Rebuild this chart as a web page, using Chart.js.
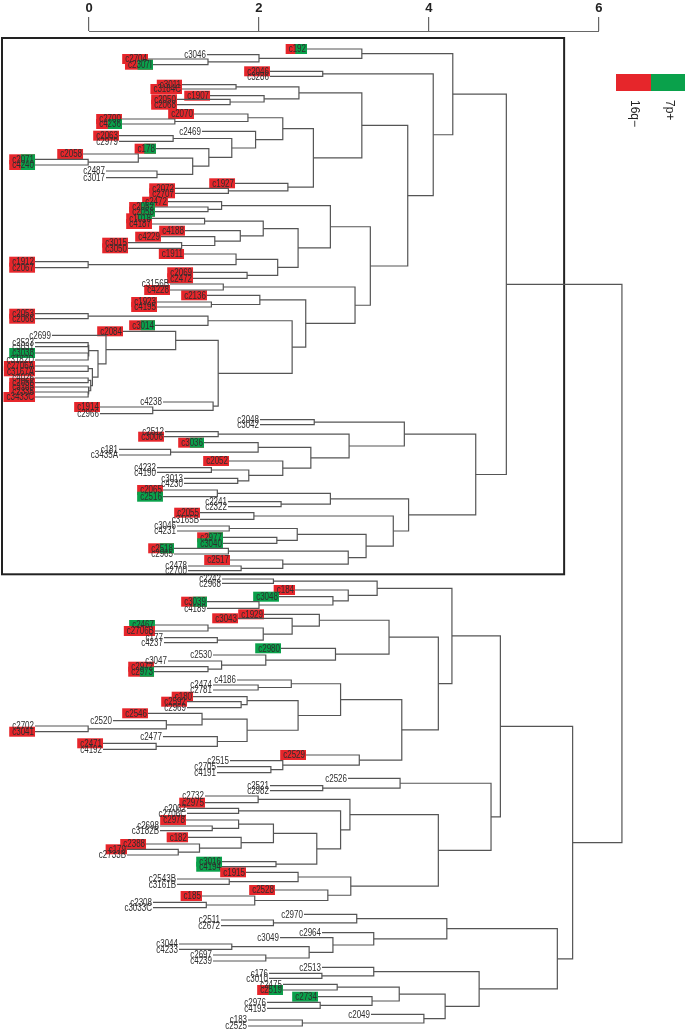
<!DOCTYPE html>
<html>
<head>
<meta charset="utf-8">
<script src="https://cdn.jsdelivr.net/npm/chart.js@4.4.1/dist/chart.umd.min.js"></script>
<style>
html,body{margin:0;padding:0;background:#fff;}
canvas{display:block;}
</style>
</head>
<body>
<canvas id="c" width="685" height="1031"></canvas>
<script>
// ---------- DATA ----------
const tickValues = [0, 2, 4, 6];
const legendLabels = ['16q\u2212', '7p+'];

// leaves, top to bottom ("#n" suffix only makes repeated labels unique)
const leafNames = [
 "c192","c3046","c2704","c2307I","c2046","c3286","c3011","c3184C","c1907","c2050","c2068","c2070","c2700","c4236","c2469","c2063","c2979","c178","c2058","c2071","c4240","c2487","c3017","c1927","c2072","c2707","c2472","c2052","c2058#2","c1018","c4187","c4188","c4229","c3015","c3050","c1911","c1912","c2067","c2069","c2472#2","c3156B","c4228","c2136","c1923","c4195","c2053","c2066","c3014","c2084","c2699",
 "c2523","c3031","c3038","c3182D","c2706A","c3167A","c4026","c2056","c3185","c2335","c3433C",
 "c4238","c1914","c2966","c2048","c3042","c2512","c3006","c3036","c181","c3435A","c2052#2","c4232","c4190","c3013","c4230","c2065","c2516","c2241","c2322","c2055","c3165B","c3046#2","c4231","c2977","c3040","c2518","c2965","c2517","c2478","c2700#2",
 "c2242","c2968","c184","c3048","c3039","c4189","c1929","c3043","c2467","c2706B","c177","c4237","c2980","c2530","c3047","c2972","c2973","c4186","c2474","c2781","c180","c2592","c2969","c2546","c2520","c2702","c3041","c2477","c2471","c4192","c2529","c2515","c2705","c4191","c2526","c2521","c2982","c2732","c2975","c2062","c2706C","c2978","c2698","c3182B","c182","c2388","c179","c2733B","c3016","c4194","c1915","c2543B","c3161B","c2528","c185","c2308","c3033C","c2970","c2511","c2672","c2964","c3049","c3044","c4233","c2697","c4239","c2513","c176","c3010","c2475","c2519","c2734","c2976","c4193","c2049","c183","c2525"
];
// vertical row position of each leaf
const leafRow = [
 49,54.7,59,64.7,71.3,76.3,84.7,89,95.7,99.3,104.7,114,119,124,131.3,135.7,141.3,148.7,154,159.3,165,171,177.7,183.3,188.3,193.3,201.7,207,211.7,218.3,224,230.7,236.7,242.7,248.3,254,261.7,267.7,272.3,278.3,284,290,295.3,302,307,313.7,318.7,325.3,331.3,335.3,
 342.7,346.7,353,360,366,371.3,378,382.7,387,392,397,
 402,407,413.7,419.7,424.7,431.7,436.7,442.7,449.3,455,461,467.7,472.3,478.3,483.3,490,496.7,501.7,506.7,512.7,519.3,526,531,537.3,543.3,548.3,554,560,566,570.7,
 579,583.3,590,596.7,601.7,608.3,614.3,618.3,625,631,637.7,642.7,648.3,655,661,666.7,671.7,680,685,690,696.7,701.7,707.7,713.3,720.7,726,731.7,736.7,743.3,749.3,755,760.7,766.7,772.7,778.3,785.7,790.7,796,802.7,808.3,813.3,820,826,830.7,837.3,844,849.3,855,861.7,866.7,872.3,879,884.3,890,896,902.3,907.7,914.3,920,925.7,932.7,937.7,944,949.3,955,961,967.3,973.3,978.3,984.3,990,996.7,1002.3,1008.3,1014.3,1020,1026
];
// distance at which each leaf branch starts
const leafStart = [
 2.565,1.388,0.694,0.753,2.129,2.129,1.094,1.094,1.424,1.035,1.035,1.235,0.388,0.388,1.329,0.353,0.353,0.788,-0.07,-0.635,-0.635,0.2,0.2,1.718,1.012,1.012,0.929,0.776,0.776,0.741,0.741,1.129,0.847,0.459,0.459,1.118,-0.635,-0.635,1.224,1.224,0.953,0.953,1.388,0.8,0.8,-0.635,-0.635,0.776,0.4,-0.435,
 -0.635,-0.635,-0.635,-0.635,-0.635,-0.635,-0.635,-0.635,-0.635,-0.635,-0.635,
 0.87,0.129,0.129,2.012,2.012,0.894,0.882,1.353,0.353,0.353,1.647,0.8,0.8,1.118,1.118,0.87,0.87,1.635,1.635,1.306,1.306,1.035,1.035,1.576,1.576,1.0,1.0,1.659,1.165,1.165,
 1.565,1.565,2.424,2.235,1.388,1.388,2.059,1.753,0.776,0.776,0.882,0.882,2.259,1.459,0.929,0.765,0.765,1.741,1.459,1.459,1.224,1.153,1.153,0.694,0.282,-0.635,-0.635,0.87,0.165,0.165,2.553,1.659,1.506,1.506,3.047,2.129,2.129,1.365,1.365,1.153,1.153,1.141,0.835,0.835,1.165,0.671,0.447,0.447,1.565,1.565,1.847,1.035,1.035,2.188,1.329,0.753,0.753,2.529,1.553,1.553,2.741,2.247,1.059,1.059,1.459,1.459,2.741,2.118,2.118,2.282,2.282,2.694,2.094,2.094,3.318,1.871,1.871
];
// 0 none, 1 16q- , 2 7p+ , 3 both
const leafMark = [
 3,0,1,3,1,0,1,1,1,1,1,1,1,3,0,1,0,3,1,3,3,0,0,1,1,1,1,3,3,3,1,1,1,1,1,1,1,1,1,1,0,1,1,1,1,1,1,3,1,0,
 0,0,2,0,1,1,0,1,1,1,1,
 0,1,0,0,0,0,1,3,0,0,1,0,0,0,0,1,2,0,0,1,0,0,0,3,2,3,0,1,0,0,
 0,0,1,2,3,0,1,1,2,1,0,0,2,0,0,1,3,0,0,0,1,1,0,1,0,0,1,0,1,0,1,0,0,0,0,0,0,0,1,0,0,1,0,0,1,1,1,0,2,2,1,0,0,1,1,0,0,0,0,0,0,0,0,0,0,0,0,0,0,0,3,2,0,0,0,0,0
];

// merges: node name, left child, right child, merge distance
const nodeNames = ["a1","a2","a3","a4","a5","a6","a7","a8","a9","a10","a11","a12","a13","a14","a15","a16","a17","a18","a19","a20","a21","a22","a23","a24","a25","a26","a27","a28","a29","a30","a31","a32","a33","a34","a35","a36","a37","a38","a39","a40","a41",
 "m1","m2","m3","m4","m5","m6","m7","m8","m9","m10",
 "a42","a43","a44","a45","a46","a47","a48","a49","a50","a51","a52","a53",
 "b1","b2","b3","b4","b5","b6","b7","b8","b9","b10","b11","b12","b13","b14","b15","b16","b17","b18","b19","b20","b21","b22","b23","b24","b25","b26","A",
 "c1","c2","c3","c4","c5","c6","c7","c8","c9","c10","c11","c12","c13","c14","c15","c16","c17","c18","c19","c20","c21","c22","c23","c24","c25","c26","c27","c28","c29","c30","c31","c32","c33","c34","c35","c36","c37","c38","c39","c40","c41","c42","c43","c44","c45","c46","c47","c48","c49","c50","c51","c52","c53","c54","c55","c56",
 "d1","d2","d3","d4","d5","d6","d7","d8","d9","d10","d11","d12","d13","d14","d15","d16","d17","d18","d19","B","root"];
const nodeLeft = ["c2704","c3046","c192","c2046","c3011","c2050","c1907","a5","c2700","c2070","c2063","c2071","c2058","c2487","a13","c178","a11","c2469","a10","c2072","c1927","a19","a8","c2052","c2472","c1018","c3015","c4229","c4188","a26","c1912","c1911","c2069","a32","a30","a25","c3156B","c1923","c2136","c2053","a40",
 "c2523","c3038","m1","c2706A","c4026","c2335","c3185","m5","m4","m3",
 "c2699","c2084","c1914","c4238","a43","a41","a39","a37","a36","a23","a4","a3",
 "c2048","c2512","c181","c3036","c4232","c3013","b5","c2052#2","b4","b2","b1","c2065","c2241","b12","c2055","c3046#2","c2977","b16","c2518","c2478","c2517","b19","b18","b15","b14","b11","a53",
 "c2242","c3039","c3048","c184","c1","c2467","c177","c6","c3043","c1929","c2972","c3047","c2530","c2980","c10","c2474","c4186","c2592","c180","c2702","c2520","c2546","c2471","c2477","c22","c19","c17","c2705","c2515","c2529","c27","c15","c5","c2521","c2526","c2732","c2062","c2698","c2978","c179","c2388","c182","c39","c3016","c43","c37","c36","c2543B","c1915","c2308","c185","c2528","c49","c47","c35","c33",
 "c2511","c2970","c3044","c2697","d3","c3049","c2964","d2","c176","c2513","c2475","c2976","c2734","d11","c183","c2049","d14","d10","d8","c56","A"];
const nodeRight = ["c2307I","a1","a2","c3286","c3184C","c2068","a6","a7","c4236","a9","c2979","c4240","a12","c3017","a14","a15","a16","a17","a18","c2707","a20","a21","a22","c2058#2","a24","c4187","c3050","a27","a28","a29","c2067","a31","c2472#2","a33","a34","a35","c4228","c4195","a38","c2066","c3014",
 "c3031","c3182D","m2","c3167A","c2056","c3433C","m6","m7","m8","m9",
 "m10","a42","c2966","a44","a45","a46","a47","a48","a49","a50","a51","a52",
 "c3042","c3006","c3435A","b3","c4190","c4230","b6","b7","b8","b9","b10","c2516","c2322","b13","c3165B","c4231","c3040","b17","c2965","c2700#2","b20","b21","b22","b23","b24","b25","b26",
 "c2968","c4189","c2","c3","c4","c2706B","c4237","c7","c8","c9","c2973","c11","c12","c13","c14","c2781","c16","c2969","c18","c3041","c20","c21","c4192","c23","c24","c25","c26","c4191","c28","c29","c30","c31","c32","c2982","c34","c2975","c2706C","c3182B","c38","c2733B","c40","c41","c42","c4194","c44","c45","c46","c3161B","c48","c3033C","c50","c51","c52","c53","c54","c55",
 "c2672","d1","c4233","c4239","d4","d5","d6","d7","c3010","d9","c2519","c4193","d12","d13","c2525","d15","d16","d17","d18","d19","B"];
const nodeHeight = [1.40,2.00,3.21,2.75,1.73,1.66,2.06,2.47,1.01,1.87,0.99,-0.01,0.58,0.80,1.22,1.41,1.68,1.96,2.28,1.64,2.34,2.64,3.21,1.40,1.56,1.36,1.09,1.48,1.78,2.05,-0.01,1.73,1.86,2.22,2.46,2.84,1.58,1.44,2.01,-0.01,1.40,
 -0.01,-0.01,0.0,-0.01,-0.01,-0.01,0.0,0.02,0.04,0.106,
 0.20,1.02,0.75,1.46,1.52,2.39,2.55,3.13,3.31,3.75,4.05,4.28,
 2.65,1.52,0.96,1.99,1.44,1.75,1.88,2.28,2.61,3.06,3.71,1.51,2.26,2.84,1.94,1.65,2.21,2.45,1.64,1.79,2.28,3.05,3.26,3.58,3.76,4.55,4.91,
 2.17,2.00,2.87,3.05,3.39,1.40,1.51,2.05,2.39,2.71,1.40,1.56,2.08,2.90,3.53,1.99,2.38,1.79,1.86,-0.01,0.91,1.33,0.79,1.51,1.86,2.46,2.96,2.14,2.28,3.18,3.68,4.11,4.27,2.75,3.66,1.99,1.76,1.45,1.76,1.05,1.30,1.79,2.17,2.20,2.68,2.96,3.07,1.65,2.46,1.38,1.95,2.81,3.08,4.11,4.73,4.84,
 2.17,3.15,1.68,2.08,2.59,2.87,3.35,4.21,2.74,3.35,2.92,2.72,3.33,3.65,2.51,3.94,4.19,4.59,5.51,5.69,6.27];

// ---------- STYLE ----------
const LINE_COLOR = '#555555';
const RED = '#e6262b';
const GREEN = '#0aa14b';
const LABEL_FONT = '10px "Liberation Sans", Arial, sans-serif';
const LABEL_SQUEEZE = 0.8;   // labels are set in a condensed face
const FRAME_RIGHT = 5.59;   // right edge of boxed upper cluster, in distance units
const FRAME_NODE = 'A';

// ---------- GEOMETRY FROM TREE ----------
const leafIdx = new Map(leafNames.map((n, i) => [n, i]));
const nodeIdx = new Map(nodeNames.map((n, i) => [n, i]));
const cache = {};
function pos(id) {
  if (leafIdx.has(id)) { const i = leafIdx.get(id); return { x: leafStart[i], y: leafRow[i] }; }
  if (cache[id]) return cache[id];
  const k = nodeIdx.get(id);
  const a = pos(nodeLeft[k]), b = pos(nodeRight[k]);
  return (cache[id] = { x: nodeHeight[k], y: (a.y + b.y) / 2 });
}
function leavesOf(id, out) {
  if (leafIdx.has(id)) { out.push(leafIdx.get(id)); return out; }
  const k = nodeIdx.get(id);
  leavesOf(nodeLeft[k], out); leavesOf(nodeRight[k], out);
  return out;
}
const datasets = nodeNames.map((n, k) => {
  const a = pos(nodeLeft[k]), b = pos(nodeRight[k]), h = nodeHeight[k];
  return {
    data: [{ x: a.x, y: a.y }, { x: h, y: a.y }, { x: h, y: b.y }, { x: b.x, y: b.y }],
    showLine: true, borderColor: LINE_COLOR, borderWidth: 1.2, pointRadius: 0,
    fill: false, tension: 0
  };
});

const decor = {
  id: 'decor',
  beforeDatasetsDraw(chart) {
    const { ctx, chartArea, scales: { x, y } } = chart;
    ctx.save();
    // axis line
    ctx.strokeStyle = '#666'; ctx.lineWidth = 1.2;
    ctx.beginPath();
    ctx.moveTo(x.getPixelForValue(tickValues[0]), chartArea.top + 0.5);
    ctx.lineTo(x.getPixelForValue(tickValues[tickValues.length - 1]), chartArea.top + 0.5);
    ctx.stroke();
    // frame around upper cluster
    const rows = leavesOf(FRAME_NODE, []).map(i => leafRow[i]);
    const top = y.getPixelForValue(Math.min(...rows)) - 11;
    const bot = y.getPixelForValue(Math.max(...rows)) + 3.6;
    ctx.strokeStyle = '#222'; ctx.lineWidth = 2;
    ctx.strokeRect(chartArea.left + 2, top, x.getPixelForValue(FRAME_RIGHT) - chartArea.left - 2, bot - top);
    // label boxes
    ctx.font = LABEL_FONT;
    leafNames.forEach((n, i) => {
      const m = leafMark[i];
      if (!m) return;
      const lab = n.split('#')[0];
      const px = x.getPixelForValue(leafStart[i]);
      const py = y.getPixelForValue(leafRow[i]);
      const w = ctx.measureText(lab).width * LABEL_SQUEEZE + 4;
      if (m === 1 || m === 3) { ctx.fillStyle = RED; ctx.fillRect(px - w, py - 5, w, 10); }
      if (m === 2) { ctx.fillStyle = GREEN; ctx.fillRect(px - w, py - 5, w, 10); }
      if (m === 3) { ctx.fillStyle = GREEN; ctx.fillRect(px - w * 0.55, py - 5, w * 0.55, 10); }
    });
    ctx.restore();
  },
  afterDatasetsDraw(chart) {
    const { ctx, scales: { x, y } } = chart;
    ctx.save();
    ctx.font = LABEL_FONT;
    ctx.fillStyle = '#2e2e2e';
    ctx.textAlign = 'right';
    ctx.textBaseline = 'middle';
    leafNames.forEach((n, i) => {
      ctx.save();
      ctx.translate(x.getPixelForValue(leafStart[i]) - 1, y.getPixelForValue(leafRow[i]) + 0.5);
      ctx.scale(LABEL_SQUEEZE, 1);
      ctx.fillText(n.split('#')[0], 0, 0);
      ctx.restore();
    });
    // legend
    const lx = 616, ly = 74, bw = 35, bh = 17;
    [RED, GREEN].forEach((c, i) => { ctx.fillStyle = c; ctx.fillRect(lx + i * bw, ly, bw, bh); });
    ctx.fillStyle = '#222';
    ctx.font = '12px "Liberation Sans", Arial, sans-serif';
    ctx.textAlign = 'left';
    legendLabels.forEach((t, i) => {
      ctx.save();
      ctx.translate(lx + i * bw + bw / 2 + 1, ly + bh + 9);
      ctx.rotate(Math.PI / 2);
      ctx.fillText(t, 0, 0);
      ctx.restore();
    });
    ctx.restore();
  }
};

new Chart(document.getElementById('c'), {
  type: 'scatter',
  data: { datasets },
  options: {
    responsive: false,
    animation: false,
    devicePixelRatio: 1,
    layout: { padding: 0 },
    plugins: { legend: { display: false }, tooltip: { enabled: false } },
    scales: {
      x: {
        type: 'linear', position: 'top', min: -1.047, max: 7.012,
        afterBuildTicks: s => { s.ticks = tickValues.map(v => ({ value: v })); },
        afterFit: s => { s.height = 31; },
        ticks: { color: '#222', padding: 1, font: { size: 13, weight: 'bold', family: '"Liberation Sans", Arial, sans-serif' } },
        grid: { display: true, drawOnChartArea: false, drawTicks: true, tickLength: 14, color: '#666', lineWidth: 1.2 },
        border: { display: false }
      },
      y: { type: 'linear', min: 31, max: 1031, reverse: true, display: false }
    }
  },
  plugins: [decor]
});
</script>
</body>
</html>
